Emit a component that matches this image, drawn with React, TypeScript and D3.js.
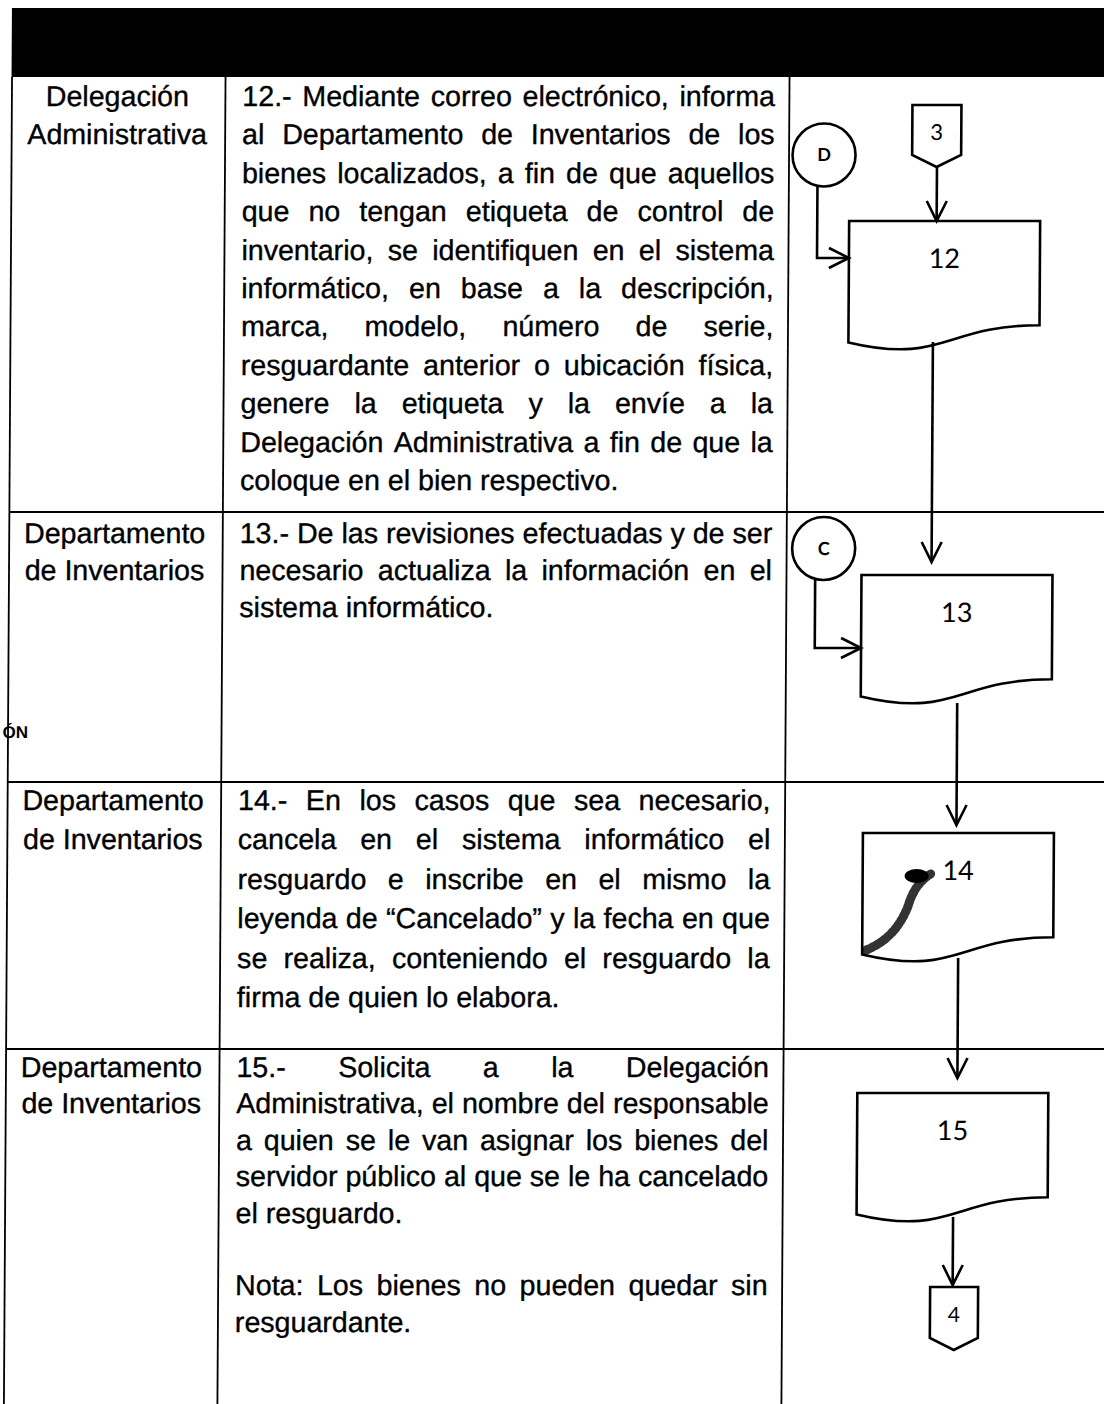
import React, { useMemo } from 'react';
import * as d3 from 'd3';

// ---------- data ----------
const roleLabels: string[][] = [
  ['Delegación', 'Administrativa'],
  ['Departamento', 'de Inventarios'],
  ['Departamento', 'de Inventarios'],
  ['Departamento', 'de Inventarios'],
];

const step12: string[] = [
  '12.- Mediante correo electrónico, informa',
  'al Departamento de Inventarios de los',
  'bienes localizados, a fin de que aquellos',
  'que no tengan etiqueta de control de',
  'inventario, se identifiquen en el sistema',
  'informático, en base a la descripción,',
  'marca, modelo, número de serie,',
  'resguardante anterior o ubicación física,',
  'genere la etiqueta y la envíe a la',
  'Delegación Administrativa a fin de que la',
  'coloque en el bien respectivo.',
];
const step13: string[] = [
  '13.- De las revisiones efectuadas y de ser',
  'necesario actualiza la información en el',
  'sistema informático.',
];
const step14: string[] = [
  '14.- En los casos que sea necesario,',
  'cancela en el sistema informático el',
  'resguardo e inscribe en el mismo la',
  'leyenda de “Cancelado” y la fecha en que',
  'se realiza, conteniendo el resguardo la',
  'firma de quien lo elabora.',
];
const step15: string[] = [
  '15.- Solicita a la Delegación',
  'Administrativa, el nombre del responsable',
  'a quien se le van asignar los bienes del',
  'servidor público al que se le ha cancelado',
  'el resguardo.',
  '',
  'Nota: Los bienes no pueden quedar sin',
  'resguardante.',
];
const stepTexts: string[][] = [step12, step13, step14, step15];
const processIds: string[] = ['12', '13', '14', '15'];
const offPageIn = '3';
const offPageOut = '4';
const onPageConnectors: string[] = ['D', 'C'];
const marginArtefact = 'ÓN';

// ---------- layout ----------
const W = 1104;
const H = 1404;
const SKEW = -0.35;
const FONT = '"Liberation Sans", Arial, sans-serif';
const FS = 28.6;
const LABEL_FONT = 'Lato, "Open Sans", sans-serif';

const HEADER_TOP = 8;
const HEADER_BOTTOM = 77;
const X_LEFT = 12.5;
const X_DIV1 = 226;
const X_DIV2 = 790;
const X_RIGHT = 1112;
const ROW_TOPS = [HEADER_BOTTOM, 512, 782, 1049];
const FIRST_BASE = [106, 543, 810, 1077];
const LINE_H = [38.4, 37, 39.5, 36.4];
const TEXT_L = 243;
const TEXT_R = 775.5;
const ROLE_CX = 118;

const BOX_W = 191;
const BOX_H = 130;
const boxes = [
  { x: 850.5, y: 221 },
  { x: 865, y: 575 },
  { x: 868, y: 833 },
  { x: 864, y: 1093 },
];

function docPath(x: number, y: number, w: number, h: number) {
  const p = d3.path();
  p.moveTo(x, y);
  p.lineTo(x + w, y);
  p.lineTo(x + w, y + h * 0.802);
  p.bezierCurveTo(x + w / 2, y + h * 0.802, x + w / 2, y + h * 1.1075, x, y + h * 0.934);
  p.closePath();
  return p.toString();
}

function offPagePath(cx: number, top: number, w: number, side: number, tip: number) {
  const p = d3.path();
  p.moveTo(cx - w / 2, top);
  p.lineTo(cx + w / 2, top);
  p.lineTo(cx + w / 2, side);
  p.lineTo(cx, tip);
  p.lineTo(cx - w / 2, side);
  p.closePath();
  return p.toString();
}

const line = d3.line<[number, number]>();

function headDown(x: number, y: number) {
  return line([[x - 10, y - 20], [x, y], [x + 10, y - 20]]) as string;
}
function headRight(x: number, y: number) {
  return line([[x - 20, y - 10], [x, y], [x - 20, y + 10]]) as string;
}

export default function App() {
  const measure = useMemo(() => {
    const ctx = document.createElement('canvas').getContext('2d')!;
    ctx.font = `${FS}px ${FONT}`;
    return (s: string) => ctx.measureText(s).width;
  }, []);

  const renderPara = (lines: string[], y0: number, lh: number, key: string) =>
    lines.map((ln, i) => {
      if (!ln) return null;
      const y = y0 + i * lh;
      const last = i === lines.length - 1 || !lines[i + 1];
      if (last) {
        return (
          <text key={key + i} x={TEXT_L} y={y}>
            {ln}
          </text>
        );
      }
      const words = ln.split(' ');
      const widths = words.map(measure);
      const gap = (TEXT_R - TEXT_L - d3.sum(widths)) / (words.length - 1);
      let x = TEXT_L;
      return (
        <text key={key + i} y={y}>
          {words.map((w, j) => {
            const t = (
              <tspan key={j} x={x}>
                {w}
              </tspan>
            );
            x += widths[j] + gap;
            return t;
          })}
        </text>
      );
    });

  const stroke = { fill: 'none', stroke: '#000', strokeWidth: 2.6 };

  const c3 = { cx: 937.6, top: 105, side: 155, tip: 167, w: 49 };
  const c4 = { cx: 962, top: 1287, side: 1338, tip: 1350, w: 48 };
  const circD = { cx: 825, cy: 155, r: 31.5, lx: 818.6, ly: 258 };
  const circC = { cx: 827, cy: 548.5, r: 31.5, lx: 818.7, ly: 648 };

  const yOnCircle = (c: { cx: number; cy: number; r: number }, x: number) =>
    c.cy + Math.sqrt(c.r * c.r - (x - c.cx) * (x - c.cx));

  const arrows: { pts: [number, number][]; head: string }[] = [
    { pts: [[938, c3.tip], [938, boxes[0].y]], head: headDown(938, boxes[0].y) },
    {
      pts: [[circD.lx, yOnCircle(circD, circD.lx)], [circD.lx, circD.ly], [boxes[0].x, circD.ly]],
      head: headRight(boxes[0].x, circD.ly),
    },
    { pts: [[935, 342], [935, 562]], head: headDown(935, 562) },
    {
      pts: [[circC.lx, yOnCircle(circC, circC.lx)], [circC.lx, circC.ly], [boxes[1].x, circC.ly]],
      head: headRight(boxes[1].x, circC.ly),
    },
    { pts: [[961.5, 703], [961.5, 825]], head: headDown(961.5, 825) },
    { pts: [[964, 958], [964, 1078]], head: headDown(964, 1078) },
    { pts: [[960.5, 1217], [960.5, 1285]], head: headDown(960.5, 1285) },
  ];

  return (
    <svg
      width={W}
      height={H}
      viewBox={`0 0 ${W} ${H}`}
      style={{ position: 'absolute', left: 0, top: 0, background: '#fff' }}
    >
      <rect x={0} y={0} width={W} height={H} fill="#fff" />
      <g transform={`skewX(${SKEW})`}>
        {/* header bar */}
        <rect x={X_LEFT - 0.5} y={HEADER_TOP} width={X_RIGHT - X_LEFT} height={HEADER_BOTTOM - HEADER_TOP} fill="#000" />

        {/* grid lines */}
        <g stroke="#000" strokeWidth={1.8}>
          <line x1={X_LEFT} x2={X_LEFT} y1={HEADER_BOTTOM} y2={H + 10} />
          <line x1={X_DIV1} x2={X_DIV1} y1={HEADER_BOTTOM} y2={H + 10} />
          <line x1={X_DIV2} x2={X_DIV2} y1={HEADER_BOTTOM} y2={H + 10} />
          {ROW_TOPS.slice(1).map((y, i) => (
            <line key={i} x1={X_LEFT} x2={X_RIGHT} y1={y} y2={y} />
          ))}
        </g>

        {/* role column */}
        <g fontFamily={FONT} fontSize={FS} fill="#000" stroke="#000" strokeWidth={0.35} textAnchor="middle">
          {roleLabels.map((lab, r) =>
            lab.map((t, i) => (
              <text key={r + '-' + i} x={ROLE_CX} y={FIRST_BASE[r] + i * LINE_H[r]}>
                {t}
              </text>
            ))
          )}
        </g>

        {/* description column */}
        <g fontFamily={FONT} fontSize={FS} fill="#000" stroke="#000" strokeWidth={0.35}>
          {stepTexts.map((lines, r) => renderPara(lines, FIRST_BASE[r], LINE_H[r], 'r' + r))}
        </g>

        {/* flowchart */}
        <g>
          {boxes.map((b, i) => (
            <g key={i}>
              <path d={docPath(b.x, b.y, BOX_W, BOX_H)} fill="#fff" {...stroke} />
              <text
                x={b.x + BOX_W / 2}
                y={b.y + 47}
                textAnchor="middle"
                fontFamily={LABEL_FONT}
                fontSize={27}
                fill="#000"
              >
                {processIds[i]}
              </text>
            </g>
          ))}

          <path d={offPagePath(c3.cx, c3.top, c3.w, c3.side, c3.tip)} {...stroke} />
          <text x={c3.cx} y={140.5} textAnchor="middle" fontFamily={LABEL_FONT} fontSize={22} fill="#000">
            {offPageIn}
          </text>
          <path d={offPagePath(c4.cx, c4.top, c4.w, c4.side, c4.tip)} {...stroke} />
          <text x={c4.cx} y={1322.5} textAnchor="middle" fontFamily={LABEL_FONT} fontSize={21} fill="#000">
            {offPageOut}
          </text>

          {[circD, circC].map((c, i) => (
            <g key={i}>
              <circle cx={c.cx} cy={c.cy} r={c.r} {...stroke} />
              <text
                x={c.cx}
                y={c.cy + 6.5}
                textAnchor="middle"
                fontFamily={LABEL_FONT}
                fontWeight={700}
                fontSize={18}
                fill="#000"
              >
                {onPageConnectors[i]}
              </text>
            </g>
          ))}

          {arrows.map((a, i) => (
            <g key={i}>
              <path d={line(a.pts) as string} {...stroke} />
              <path d={a.head} {...stroke} />
            </g>
          ))}
        </g>

        {/* scan artefacts */}
        <g fill="#000">
          <path
            d="M872,950 Q902,938 914,905 Q920,884 936,874"
            fill="none"
            stroke="#000"
            strokeWidth={9}
            strokeDasharray="3 2"
            strokeLinecap="round"
            opacity={0.8}
          />
          <ellipse cx={922} cy={876} rx={12} ry={7} />
          <text x={7} y={738} fontFamily={FONT} fontWeight={700} fontSize={17}>
            {marginArtefact}
          </text>
        </g>
      </g>
    </svg>
  );
}
